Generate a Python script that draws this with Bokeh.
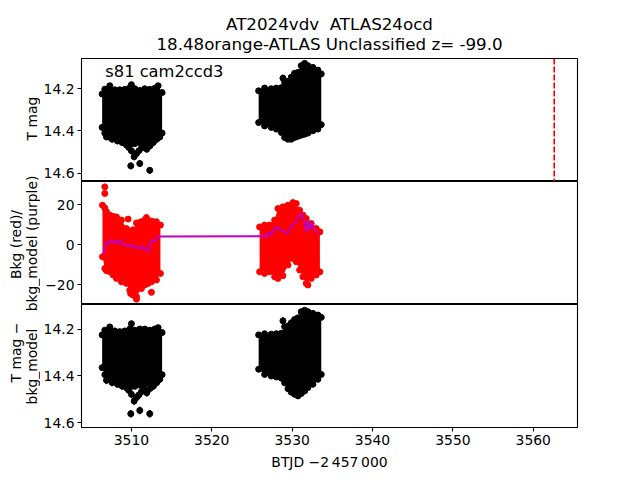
import math
from bokeh.plotting import figure
from bokeh.layouts import column, row
from bokeh.models import Range1d, Span, FixedTicker
from bokeh.embed import file_html
from bokeh.resources import INLINE
from bokeh.core.properties import value

FONT = "DejaVu Sans"

# ---------------- data ----------------
title_line1 = "AT2024vdv\u00a0 ATLAS24ocd"
title_line2 = "18.48orange-ATLAS Unclassified z= -99.0"
sector_text = "s81 cam2ccd3"
event_time = [3562.6]

x_ticks = [3510, 3520, 3530, 3540, 3550, 3560]
mag_ticks = [14.2, 14.4, 14.6]
bkg_ticks = [-20, 0, 20]
bkg_tick_labels = ["\u221220", "0", "20"]

# top panel: T mag, orbit 1 envelope
top1_t = [3506.36, 3506.69, 3507.31, 3507.93, 3508.55, 3509.18, 3509.80, 3510.00,
          3510.42, 3511.04, 3511.66, 3512.28, 3512.90, 3513.32, 3513.82]
top1_hi = [14.225, 14.202, 14.186, 14.205, 14.205, 14.203, 14.195, 14.181,
           14.200, 14.208, 14.200, 14.203, 14.198, 14.186, 14.218]
top1_lo = [14.383, 14.410, 14.430, 14.430, 14.440, 14.445, 14.455, 14.460,
           14.460, 14.455, 14.450, 14.450, 14.440, 14.430, 14.410]
tail_t = [3506.90, 3507.60, 3508.26, 3508.84, 3509.38, 3509.67, 3510.00, 3510.34,
          3510.63, 3510.92, 3511.25, 3511.58, 3511.91, 3512.32, 3512.74, 3513.15,
          3513.53, 3509.92, 3511.04, 3512.28]
top1_tail_m = [14.428, 14.439, 14.447, 14.454, 14.466, 14.478, 14.494, 14.522,
               14.507, 14.494, 14.481, 14.470, 14.486, 14.470, 14.454, 14.439,
               14.428, 14.565, 14.554, 14.586]
# top panel: orbit 2 envelope
top2_t = [3525.83, 3526.57, 3527.40, 3528.03, 3528.65, 3529.06, 3529.48, 3529.89,
          3530.30, 3530.72, 3531.13, 3531.55, 3531.96, 3532.58, 3533.20, 3533.62]
top2_hi = [14.210, 14.197, 14.200, 14.197, 14.195, 14.170, 14.165, 14.146,
           14.127, 14.123, 14.091, 14.080, 14.091, 14.099, 14.112, 14.130]
top2_lo = [14.360, 14.376, 14.383, 14.391, 14.407, 14.431, 14.439, 14.439,
           14.431, 14.425, 14.420, 14.415, 14.410, 14.399, 14.391, 14.370]
top2_spike_t = [3528.85]
top2_spike_m = [14.150]

# middle panel: background (red) envelopes
red1_t = [3506.40, 3506.69, 3506.90, 3507.31, 3507.73, 3508.14, 3508.76, 3509.38,
          3509.80, 3510.21, 3510.63, 3511.25, 3511.66, 3512.08, 3512.49, 3513.11, 3513.61]
red1_hi = [19.9, 18.5, 16.6, 14.9, 14.3, 14.0, 12.4, 8.2,
           6.5, 7.5, 11.0, 11.6, 12.4, 11.6, 12.0, 11.6, 9.9]
red1_lo = [-6.0, -11.9, -13.0, -13.6, -15.2, -16.9, -18.6, -19.4,
           -22.8, -25.3, -26.0, -22.0, -20.2, -19.4, -18.6, -17.7, -14.4]
red2_t = [3525.95, 3526.57, 3527.19, 3527.82, 3528.23, 3528.85, 3529.48, 3530.10,
          3530.51, 3530.93, 3531.34, 3531.75, 3532.37, 3532.99, 3533.45]
red2_hi = [9.0, 9.9, 9.9, 12.4, 18.2, 19.1, 19.9, 21.2, 20.7, 17.4, 14.9, 13.2, 10.7, 8.2, 6.5]
red2_lo = [-13.6, -14.4, -13.6, -16.1, -16.9, -15.5, -10.2, -6.9, -8.5, -12.7,
           -16.1, -19.4, -16.9, -15.2, -13.6]
red_pts_t = [3506.69, 3506.69, 3509.59, 3511.04, 3511.87, 3512.90, 3510.63, 3512.49, 3509.90, 3531.96]
red_pts_v = [29.1, 25.8, 12.9, 11.2, 13.7, 11.2, -27.3, -23.9, -24.5, -20.2]

# middle panel: bkg_model (purple)
bkg_t = [3506.48, 3506.69, 3506.90, 3507.19, 3507.44, 3507.73, 3508.02, 3508.35,
         3508.68, 3508.97, 3509.38, 3509.80, 3510.09, 3510.42, 3510.83, 3511.16,
         3511.45, 3511.74, 3512.08, 3512.32, 3512.57, 3512.90, 3513.15, 3513.44,
         3526.16, 3526.49, 3526.78, 3527.07, 3527.40, 3527.74, 3528.03, 3528.32,
         3528.65, 3529.06, 3529.39, 3529.68, 3529.97, 3530.30, 3530.63, 3530.93,
         3531.13, 3531.34, 3531.55, 3531.75, 3531.96, 3532.21, 3532.46, 3532.71,
         3533.00, 3533.20]
bkg_v = [-4.9, -1.0, 1.5, 0.5, 2.5, 0.8, 2.2, 0.3,
         2.5, 0.2, -0.5, -1.0, 0.2, -1.5, -1.2, -2.2,
         -0.5, -2.0, -3.5, 0.5, 2.5, 1.5, 3.5, 4.2,
         4.3, 4.85, 3.5, 6.5, 4.85, 8.2, 9.0, 7.4,
         7.4, 6.5, 5.7, 7.4, 9.9, 10.7, 12.4, 14.9,
         15.7, 14.1, 10.7, 6.5, 12.4, 7.4, 11.5, 8.2,
         6.5, 5.7]

# bottom panel: T mag - bkg_model
bot1_hi = [14.225, 14.205, 14.191, 14.208, 14.211, 14.208, 14.200, 14.177,
           14.205, 14.200, 14.200, 14.205, 14.200, 14.194, 14.215]
bot1_lo = [14.365, 14.395, 14.410, 14.415, 14.425, 14.430, 14.440, 14.445,
           14.445, 14.440, 14.435, 14.430, 14.420, 14.410, 14.395]
bot1_tail_m = [14.419, 14.429, 14.436, 14.444, 14.451, 14.462, 14.479, 14.508,
               14.493, 14.482, 14.468, 14.458, 14.472, 14.454, 14.444, 14.429,
               14.415, 14.562, 14.548, 14.562]
bot2_hi = [14.225, 14.220, 14.222, 14.220, 14.218, 14.190, 14.187, 14.173,
           14.159, 14.152, 14.126, 14.120, 14.126, 14.133, 14.140, 14.150]
bot2_lo = [14.372, 14.394, 14.401, 14.405, 14.410, 14.430, 14.455, 14.470,
           14.479, 14.486, 14.476, 14.465, 14.450, 14.436, 14.415, 14.394]
bot2_spike_m = [14.165]

y_labels = ["T mag", "Bkg (red)/", "bkg_model (purple)", "T mag \u2212", "bkg_model"]

MAG_ERR = 0.016

# ---------------- figures ----------------
x_range = Range1d(3503.79, 3565.5)
TOTAL_H = 477
STRIP_W = 40


def make_fig(y_range, frame_top=0, frame_bottom=0):
    p = figure(x_range=x_range, y_range=y_range, frame_width=496, frame_height=123,
               min_border_left=80 - STRIP_W, min_border_right=56,
               min_border_top=frame_top, min_border_bottom=frame_bottom,
               output_backend="svg", toolbar_location=None)
    p.grid.visible = False
    p.outline_line_color = "black"
    p.outline_line_width = 1.1
    p.outline_line_alpha = 1.0
    p.background_fill_color = "white"
    p.border_fill_color = "white"
    for ax in p.yaxis + p.xaxis:
        ax.axis_line_color = None
        ax.major_tick_line_color = "black"
        ax.major_tick_line_width = 1.1
        ax.major_tick_out = 4
        ax.major_tick_in = 0
        ax.minor_tick_line_color = None
        ax.major_label_text_font = FONT
        ax.major_label_text_font_size = "13.9px"
        ax.major_label_text_color = "black"
        ax.major_label_standoff = 3
        ax.axis_label_text_font = FONT
        ax.axis_label_text_font_size = "13.9px"
        ax.axis_label_text_font_style = "normal"
        ax.axis_label_text_color = "black"
    return p


def err_points(p, t, m, color="black"):
    p.segment(x0=t, y0=[v - MAG_ERR for v in m], x1=t, y1=[v + MAG_ERR for v in m],
              line_color=color, line_width=1.8)
    p.scatter(x=t, y=m, size=6, color=color)


def cloud(p, t, hi, lo, color, size):
    # dense point cloud drawn as its envelope, with point markers on the edges
    p.varea(x=t, y1=hi, y2=lo, fill_color=color)
    p.scatter(x=t + t, y=hi + lo, size=size, color=color)


# top panel
p1 = make_fig(Range1d(14.639, 14.057), frame_top=58)
p1.xaxis.visible = False
p1.yaxis.ticker = FixedTicker(ticks=mag_ticks)
cloud(p1, top1_t, top1_hi, top1_lo, "black", 6)
cloud(p1, top2_t, top2_hi, top2_lo, "black", 6)
err_points(p1, tail_t, top1_tail_m)
err_points(p1, top2_spike_t, top2_spike_m)
p1.add_layout(Span(location=event_time[0], dimension="height", line_color="#ff0000",
                   line_width=1.6, line_dash="6 2"))
p1.text(x=[3506.75], y=[14.117], text=[sector_text], text_font=value(FONT),
        text_font_size="16.3px", text_color="black", text_align="left",
        text_baseline="alphabetic")
p1.title.text = title_line1 + "\n" + title_line2
p1.title.align = "center"
p1.title.text_align = "center"
p1.title.text_font = FONT
p1.title.text_font_size = "16.7px"
p1.title.text_font_style = "normal"
p1.title.text_color = "black"
p1.title.text_line_height = 1.0
p1.title.standoff = 10

# middle panel
p2 = make_fig(Range1d(-30.0, 31.8))
p2.xaxis.visible = False
p2.yaxis.ticker = FixedTicker(ticks=bkg_ticks)
p2.yaxis.major_label_overrides = dict(zip(bkg_ticks, bkg_tick_labels))
cloud(p2, red1_t, red1_hi, red1_lo, "#ff0000", 6)
cloud(p2, red2_t, red2_hi, red2_lo, "#ff0000", 6)
p2.scatter(x=red_pts_t, y=red_pts_v, size=6, color="#ff0000")
p2.line(x=bkg_t, y=bkg_v, line_color="#bf00bf", line_width=2)

# bottom panel
p3 = make_fig(Range1d(14.621, 14.095), frame_bottom=50)
p3.yaxis.ticker = FixedTicker(ticks=mag_ticks)
p3.xaxis.ticker = FixedTicker(ticks=x_ticks)
p3.xaxis.axis_label = "BTJD \u22122\u2009457\u2009000"
p3.xaxis.axis_label_standoff = 6
cloud(p3, top1_t, bot1_hi, bot1_lo, "black", 6)
cloud(p3, top2_t, bot2_hi, bot2_lo, "black", 6)
err_points(p3, tail_t, bot1_tail_m)
err_points(p3, top2_spike_t, bot2_spike_m)

# y-axis titles in a narrow strip on the left (they overhang the panels)
lab = figure(x_range=Range1d(0, STRIP_W), y_range=Range1d(TOTAL_H, 0), frame_width=STRIP_W,
             frame_height=TOTAL_H, min_border=0, output_backend="svg",
             toolbar_location=None)
lab.axis.visible = False
lab.grid.visible = False
lab.outline_line_color = None
lab.text(x=[31, 15, 31, 15, 31], y=[118, 244, 243, 352, 366], text=y_labels,
         angle=math.pi / 2, text_font=value(FONT), text_font_size="13.9px",
         text_color="black", text_align="center", text_baseline="alphabetic")

layout = row(lab, column(p1, p2, p3, spacing=0), spacing=0)
open("out.html", "w").write(file_html(layout, INLINE))
